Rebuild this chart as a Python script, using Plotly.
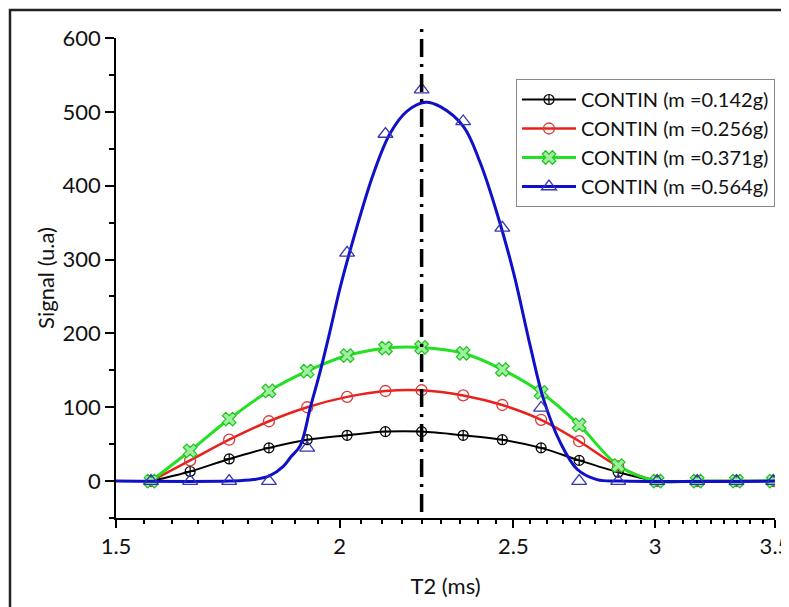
import math
import plotly.graph_objects as go

# ---- data ----
t2 = [1.569, 1.650, 1.735, 1.826, 1.918, 2.019, 2.121, 2.222, 2.344, 2.465,
      2.591, 2.721, 2.861, 3.008, 3.167, 3.331, 3.492]
sig_0142 = [0, 13, 30, 45, 56, 62, 67, 67, 62, 56, 45, 28, 12, 0, 0, 0, 0]
sig_0256 = [0, 28, 56, 81, 100, 114, 122, 123, 116, 103, 83, 54, 20, 0, 0, 0, 0]
sig_0371 = [0, 41, 84, 122, 149, 170, 180, 181, 173, 151, 120, 76, 21, 0, 0, 0, 0]
sig_0564 = [0, 0, 0, 0, 45, 309, 470, 530, 487, 343, 99, 0, 0, 0, 0, 0, 0]

# fitted curve for m = 0.564 g
fit_t2 = [1.50, 1.737, 1.790, 1.827, 1.860, 1.877, 1.901, 1.926, 1.951, 1.976,
          2.001, 2.045, 2.089, 2.134, 2.181, 2.233, 2.276, 2.345, 2.396, 2.448,
          2.501, 2.555, 2.599, 2.656, 2.714, 2.784, 2.870, 3.50]
fit_0564 = [0, 0, 2, 7, 20, 32, 48, 100, 150, 205,
            262, 345, 417, 471, 501, 513, 507, 480, 431, 363,
            282, 183, 111, 52, 16, 2, 0, 0]

names = ["CONTIN (m =0.142g)", "CONTIN (m =0.256g)",
         "CONTIN (m =0.371g)", "CONTIN (m =0.564g)"]
peak_t2 = 2.222
x_ticks = [1.5, 2, 2.5, 3, 3.5]
x_ticktext = ["1.5", "2", "2.5", "3", "3.5"]
y_ticks = [0, 100, 200, 300, 400, 500, 600]
x_range = [1.5, 3.5]
y_range = [-50, 600]

FONT = "Lato"
OFF = 8                      # page body margin
W, H = 789 - OFF, 607 - OFF
ML, MT = 116 - OFF, 38 - OFF
PW, PH = 659, 480
MR = W - ML - PW
MB = H - MT - PH

fig = go.Figure()

fig.add_trace(go.Scatter(
    x=t2, y=sig_0142, mode="lines+markers", name=names[0],
    line=dict(color="#000000", width=2, shape="spline", smoothing=0.9),
    marker=dict(symbol="circle-cross-open", size=10, color="#000000",
                line=dict(width=1.2))))
fig.add_trace(go.Scatter(
    x=t2, y=sig_0256, mode="lines+markers", name=names[1],
    line=dict(color="#e8211d", width=2.5, shape="spline", smoothing=0.9),
    marker=dict(symbol="circle-open", size=11, color="#d83a3a",
                line=dict(width=1.3))))
fig.add_trace(go.Scatter(
    x=t2, y=sig_0371, mode="lines+markers", name=names[2],
    line=dict(color="#22e022", width=3, shape="spline", smoothing=0.9),
    marker=dict(symbol="x", size=12, color="#9cf09c",
                line=dict(width=1.2, color="#22c022"))))
# m = 0.564 g : fitted curve + measured points
fig.add_trace(go.Scatter(
    x=fit_t2, y=fit_0564, mode="lines", showlegend=False,
    line=dict(color="#1010c8", width=3, shape="spline", smoothing=1)))
fig.add_trace(go.Scatter(
    x=t2, y=sig_0564, mode="markers", showlegend=False,
    marker=dict(symbol="triangle-up-open", size=13, color="#3535b0",
                line=dict(width=1.3))))
fig.add_trace(go.Scatter(
    x=[None], y=[None], mode="lines+markers", name=names[3],
    line=dict(color="#1010c8", width=3),
    marker=dict(symbol="triangle-up-open", size=13, color="#3535b0",
                line=dict(width=1.3))))

# vertical dash-dot line at peak T2 (paper coords computed from data scale)
lx0, lx1 = math.log10(x_range[0]), math.log10(x_range[1])
xp = (math.log10(peak_t2) - lx0) / (lx1 - lx0)
def ypap(v):
    return (v - y_range[0]) / (y_range[1] - y_range[0])
fig.add_shape(type="line", xref="paper", yref="paper",
              x0=xp, x1=xp, y0=ypap(-42), y1=ypap(613),
              line=dict(color="black", width=3.5, dash="18px,7px,3px,7px"))

# outer frame (page x=10, y=8); right and bottom edges fall outside the page
fx0 = (10 - OFF - ML) / PW
fx1 = (W + 6 - ML) / PW
fy1 = (MT + PH - 2) / PH
fy0 = (MT + PH - H - 6) / PH
fig.add_shape(type="rect", xref="paper", yref="paper",
              x0=fx0, x1=fx1, y0=fy0, y1=fy1,
              line=dict(color="#222222", width=2.5))

minor_x = []
for a, b in zip(x_ticks[:-1], x_ticks[1:]):
    for k in range(1, 9):
        minor_x.append(a + k * (b - a) / 9)

fig.update_layout(
    width=W, height=H,
    margin=dict(l=ML, r=MR, t=MT, b=MB, autoexpand=False),
    paper_bgcolor="white", plot_bgcolor="white",
    font=dict(family=FONT, size=20, color="#111111"),
    showlegend=True,
    legend=dict(x=(516 - 116) / PW, y=(518 - 79) / PH,
                xanchor="left", yanchor="top",
                bgcolor="white", bordercolor="#888888", borderwidth=1,
                font=dict(family=FONT, size=20, color="#111111"),
                itemwidth=54, tracegroupgap=0),
    xaxis=dict(type="log", range=[lx0, lx1 + 1e-5], automargin=False,
               tickmode="array", tickvals=x_ticks, ticktext=x_ticktext,
               ticklabeloverflow="allow",
               ticks="outside", ticklen=8, tickwidth=1.5, tickcolor="black",
               showline=True, linecolor="black", linewidth=1.5,
               showgrid=False, zeroline=False,
               minor=dict(tickmode="array", tickvals=minor_x, ticks="outside",
                          ticklen=4, tickwidth=1.5, tickcolor="black",
                          showgrid=False),
               title=dict(text="T2 (ms)", font=dict(size=22), standoff=20),
               tickfont=dict(size=22)),
    yaxis=dict(range=y_range, tickmode="array", tickvals=y_ticks,
               automargin=False,
               ticks="outside", ticklen=9, tickwidth=1.5, tickcolor="black",
               showline=True, linecolor="black", linewidth=1.5,
               showgrid=False, zeroline=False,
               minor=dict(dtick=50, tick0=0, ticks="outside", ticklen=5,
                          tickwidth=1.5, tickcolor="black", showgrid=False),
               title=dict(text="Signal (u.a)", font=dict(size=22), standoff=2),
               tickfont=dict(size=22)),
)

fig.write_html("out.html")
